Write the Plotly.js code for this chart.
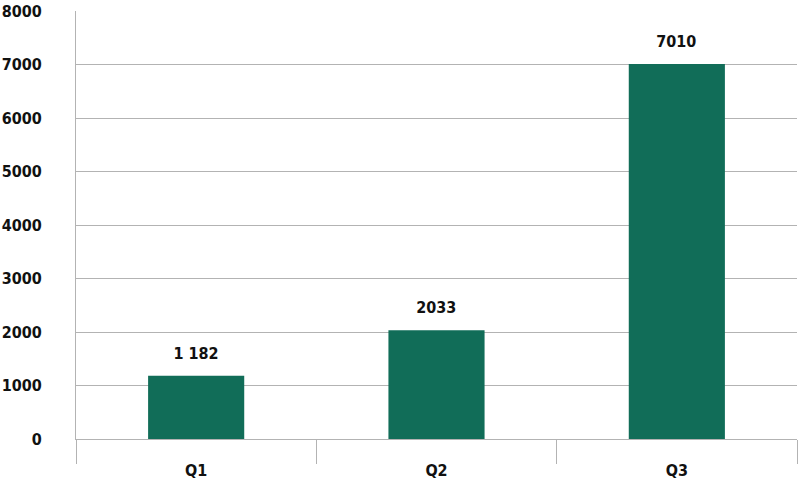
<!DOCTYPE html>
<html><head><meta charset="utf-8">
<script src="https://cdn.plot.ly/plotly-3.0.1.min.js"></script>
<style>
html,body{margin:0;padding:0;background:#fff}
.main-svg text{font-stretch:condensed !important;}
</style>
</head><body>
<div id="chart" style="width:800px;height:482px"></div>
<script>
const categories = ["Q1", "Q2", "Q3"];
const values = [1182, 2033, 7010];
const valueLabels = ["1 182", "2033", "7010"];
const yTicks = [0, 1000, 2000, 3000, 4000, 5000, 6000, 7000, 8000];

const FONT = "DejaVu Sans";
const gray = "#b3b3b3";
const SIZE = 16;

const annotations = categories.map((c, i) => ({
  x: c, y: values[i], text: "<b>" + valueLabels[i] + "</b>",
  showarrow: false, yanchor: "bottom", yshift: 11,
  font: {family: FONT, size: SIZE, color: "#111"}
}));

Plotly.newPlot("chart", [{
  type: "bar", x: categories, y: values,
  marker: {color: "#116d58", line: {width: 0}},
  hoverinfo: "none"
}], {
  width: 800, height: 482,
  margin: {l: 76, r: 3, t: 11, b: 43},
  paper_bgcolor: "#fff", plot_bgcolor: "#fff",
  bargap: 0.6,
  showlegend: false,
  font: {family: FONT, size: SIZE, color: "#111"},
  xaxis: {
    type: "category", showgrid: false, zeroline: false,
    showline: true, linecolor: gray, linewidth: 1,
    ticks: "outside", tickson: "boundaries", ticklen: 24, tickcolor: gray, tickwidth: 1,
    ticklabelstandoff: 17,
    tickfont: {family: FONT, size: SIZE, color: "#111", weight: "bold"}
  },
  yaxis: {
    range: [0, 8001], tickvals: yTicks, ticktext: yTicks.map(String),
    showgrid: true, gridcolor: gray, gridwidth: 1,
    zeroline: false, showline: true, linecolor: gray, linewidth: 1,
    ticks: "", ticklabelstandoff: 30,
    tickfont: {family: FONT, size: SIZE, color: "#111", weight: "bold"}
  },
  annotations: annotations
}, {staticPlot: true, displayModeBar: false});
</script>
</body></html>
